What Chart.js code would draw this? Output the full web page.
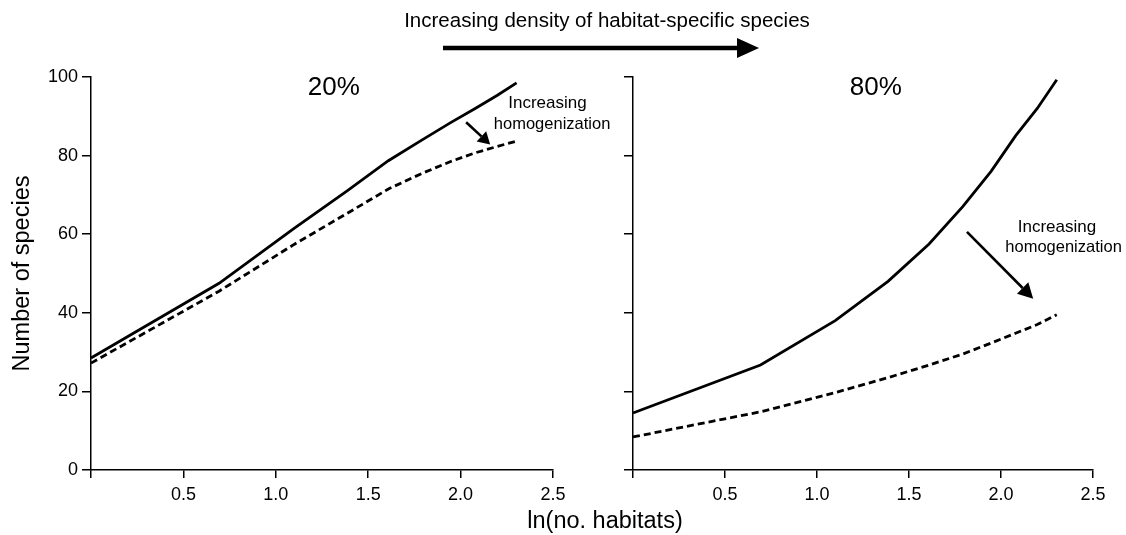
<!DOCTYPE html>
<html>
<head>
<meta charset="utf-8">
<script src="https://cdn.jsdelivr.net/npm/chart.js@4"></script>
<style>
html, body { margin: 0; padding: 0; background: #fff; }
#wrap { position: relative; width: 1126px; height: 535px; }
#wrap canvas { position: absolute; left: 0; top: 0; }
</style>
</head>
<body>
<div id="wrap">
  <canvas id="left" width="1126" height="535"></canvas>
  <canvas id="right" width="1126" height="535"></canvas>
</div>
<script>
// x = ln(number of habitats), habitats 1..10
const lnHabitats = [0, 0.693, 1.099, 1.386, 1.609, 1.792, 1.946, 2.079, 2.197, 2.303];
const xTicks = [0, 0.5, 1.0, 1.5, 2.0, 2.5];
const yTicks = [0, 20, 40, 60, 80, 100];

// 20% habitat-specific species
const solid20 = [28.5, 47.5, 61.5, 71, 78.7, 84, 88.4, 92, 95.3, 98.5];
const dashed20 = [27.2, 45.5, 57.4, 65.3, 71.5, 75.5, 78.5, 80.7, 82.3, 83.7];
// 80% habitat-specific species
const solid80 = [14.5, 26.7, 38, 48, 57.5, 67, 76, 85, 92, 99.3];
const dashed80 = [8.4, 14.8, 19.7, 23.5, 26.7, 29.5, 32.3, 34.8, 37, 39.5];

const FONT = '"Liberation Sans", Arial, Helvetica, sans-serif';

function points(ys) {
  return lnHabitats.map((x, i) => ({ x: x, y: ys[i] }));
}

function lineSet(ys, dashed) {
  return {
    data: points(ys),
    borderColor: '#000',
    borderWidth: 2.8,
    borderDash: dashed ? [7, 4] : [],
    pointRadius: 0,
    tension: 0,
    fill: false,
    clip: false
  };
}

function drawArrow(ctx, x0, y0, x1, y1, width, head, half) {
  const ang = Math.atan2(y1 - y0, x1 - x0);
  const bx = x1 - head * Math.cos(ang);
  const by = y1 - head * Math.sin(ang);
  ctx.lineWidth = width;
  ctx.beginPath();
  ctx.moveTo(x0, y0);
  ctx.lineTo(bx, by);
  ctx.stroke();
  ctx.beginPath();
  ctx.moveTo(x1, y1);
  ctx.lineTo(bx + half * Math.sin(ang), by - half * Math.cos(ang));
  ctx.lineTo(bx - half * Math.sin(ang), by + half * Math.cos(ang));
  ctx.closePath();
  ctx.fill();
}

// panel labels and "increasing homogenization" notes, placed in data units
const notes = {
  id: 'notes',
  afterDraw(chart, args, opts) {
    const { ctx, scales: { x, y } } = chart;
    ctx.save();
    ctx.fillStyle = '#000';
    ctx.strokeStyle = '#000';
    ctx.textAlign = 'center';
    ctx.textBaseline = 'middle';
    (opts.labels || []).forEach(l => {
      ctx.font = l.size + 'px ' + FONT;
      ctx.fillText(l.text, x.getPixelForValue(l.x), y.getPixelForValue(l.y));
    });
    (opts.arrows || []).forEach(a => {
      drawArrow(ctx, x.getPixelForValue(a.x0), y.getPixelForValue(a.y0),
        x.getPixelForValue(a.x1), y.getPixelForValue(a.y1), 2.6, a.head, a.half);
    });
    ctx.restore();
  }
};

// figure-wide texts: top caption + arrow, shared x title
const figureText = {
  id: 'figureText',
  afterDraw(chart) {
    const ctx = chart.ctx;
    ctx.save();
    ctx.fillStyle = '#000';
    ctx.strokeStyle = '#000';
    ctx.textAlign = 'center';
    ctx.textBaseline = 'middle';
    ctx.font = '20.5px ' + FONT;
    ctx.fillText('Increasing density of habitat-specific species', 607, 21);
    drawArrow(ctx, 443, 48, 759, 48, 4.5, 22, 10);
    ctx.font = '23.5px ' + FONT;
    ctx.fillText('ln(no. habitats)', 605, 522);
    ctx.restore();
  }
};

function axes(showYLabels, yWidth) {
  const grid = { display: true, drawOnChartArea: false, drawTicks: true, color: '#000', lineWidth: 1.5 };
  return {
    x: {
      type: 'linear', min: 0, max: 2.5,
      afterBuildTicks: s => { s.ticks = xTicks.map(v => ({ value: v })); },
      afterFit: s => { s.height = 65; },
      grid: Object.assign({}, grid, { tickLength: 8 }),
      border: { display: true, color: '#000', width: 1.5 },
      ticks: {
        color: '#000', padding: 6, maxRotation: 0, autoSkip: false,
        font: { family: FONT, size: 18 },
        callback: v => v === 0 ? '' : v.toFixed(1)
      }
    },
    y: {
      type: 'linear', min: 0, max: 100,
      afterBuildTicks: s => { s.ticks = yTicks.map(v => ({ value: v })); },
      afterFit: s => { s.width = yWidth; },
      grid: Object.assign({}, grid, { tickLength: 9 }),
      border: { display: true, color: '#000', width: 1.5 },
      ticks: {
        display: showYLabels, color: '#000', padding: 4,
        font: { family: FONT, size: 18 }
      },
      title: {
        display: showYLabels, text: 'Number of species', color: '#000',
        font: { family: FONT, size: 23.5 }, padding: { top: 8, bottom: 0 }
      }
    }
  };
}

function baseOptions(padRight, showYLabels, yWidth, noteOpts) {
  return {
    responsive: false,
    animation: false,
    layout: { padding: { left: 0, top: 77, right: padRight, bottom: 0 } },
    plugins: { legend: { display: false }, tooltip: { enabled: false }, notes: noteOpts },
    scales: axes(showYLabels, yWidth)
  };
}

new Chart(document.getElementById('left'), {
  type: 'line',
  data: { datasets: [lineSet(solid20, false), lineSet(dashed20, true)] },
  options: baseOptions(573, true, 91, {
    labels: [
      { text: '20%', x: 1.314, y: 97.2, size: 26 },
      { text: 'Increasing', x: 2.47, y: 93.4, size: 17 },
      { text: 'homogenization', x: 2.495, y: 87.8, size: 16.5 }
    ],
    arrows: [{ x0: 2.03, y0: 88.5, x1: 2.16, y1: 82.8, head: 12, half: 7 }]
  }),
  plugins: [notes, figureText]
});

new Chart(document.getElementById('right'), {
  type: 'line',
  data: { datasets: [lineSet(solid80, false), lineSet(dashed80, true)] },
  options: baseOptions(33, false, 633, {
    labels: [
      { text: '80%', x: 1.32, y: 97.2, size: 26 },
      { text: 'Increasing', x: 2.304, y: 61.8, size: 17 },
      { text: 'homogenization', x: 2.34, y: 56.7, size: 16.5 }
    ],
    arrows: [{ x0: 1.815, y0: 60.6, x1: 2.175, y1: 43.6, head: 15, half: 8 }]
  }),
  plugins: [notes]
});
</script>
</body>
</html>
